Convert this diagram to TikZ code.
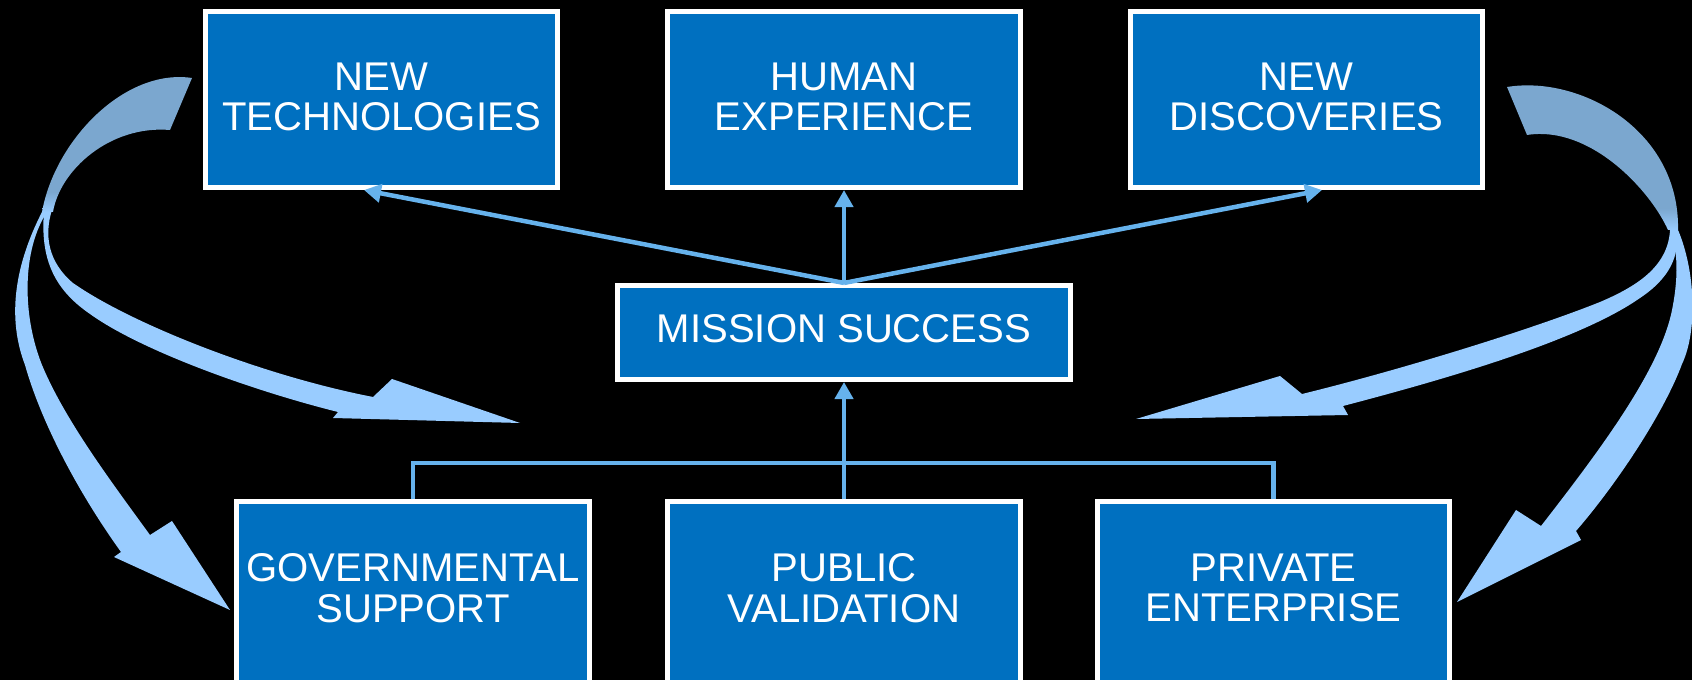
\documentclass[tikz,border=0pt]{standalone}
\usepackage{fontspec}
\setmainfont{Liberation Sans}
\usetikzlibrary{arrows.meta}
\definecolor{boxblue}{RGB}{0,112,192}
\definecolor{linkblue}{RGB}{102,178,236}
\definecolor{armlight}{RGB}{153,204,255}
\definecolor{armgray}{RGB}{123,167,207}
\pgfdeclareverticalshading{tailfade}{100bp}{color(0bp)=(armlight); color(25bp)=(armlight); color(32bp)=(armgray); color(100bp)=(armgray)}
\begin{document}
\begin{tikzpicture}[x=0.01cm, y=-0.01cm,
  box/.style={draw=white, line width=0.05cm, fill=boxblue, text=white, align=center,
    minimum width=3.52cm, minimum height=1.76cm, inner sep=0pt, outer sep=0.025cm,
    font=\fontsize{11.4}{11.4}\selectfont, text depth=0.05cm},
  lowbox/.style={box, minimum height=1.86cm, text depth=0.14cm},
  link/.style={linkblue, line width=0.045cm},
  linkarrow/.style={link, -{Triangle[width=0.18cm,length=0.17cm]}}]
  \useasboundingbox (0,0) rectangle (1692,680);
  \fill[black] (0,0) rectangle (1692,680);

  \fill[armlight] (42,212) .. controls (20,255) and (4,310) .. (25,365) .. controls (42,425) and (80,495) .. (121,552) -- (114,557) -- (230,610) -- (172,521) -- (150,535) .. controls (110,480) and (65,420) .. (42,365) .. controls (22,315) and (22,250) .. (47,212) -- cycle;
  \fill[armlight] (52,210) .. controls (44,235) and (48,262) .. (73,283) .. controls (130,323) and (260,375) .. (373,397) -- (392,379) -- (520,423) -- (333,418) -- (338,412) .. controls (250,390) and (140,350) .. (90,314) .. controls (55,290) and (40,260) .. (44,212) -- cycle;
  \shade[shading=tailfade] (192,78) .. controls (125,68) and (55,140) .. (42,212) -- (53,212) .. controls (60,170) and (110,125) .. (170,130) -- cycle;

  \fill[armlight] (1678,230) .. controls (1695,270) and (1698,330) .. (1682,364) .. controls (1665,410) and (1620,480) .. (1576,531) -- (1581,540) -- (1457,602) -- (1516,510) -- (1541,526) .. controls (1600,450) and (1660,370) .. (1672,310) .. controls (1680,270) and (1676,245) .. (1670,230) -- cycle;
  \fill[armlight] (1670,230) .. controls (1668,265) and (1640,285) .. (1600,302) .. controls (1530,330) and (1400,370) .. (1302,394) -- (1280,376) -- (1136,419) -- (1348,415) -- (1343,406) .. controls (1450,378) and (1580,340) .. (1640,298) .. controls (1670,278) and (1680,255) .. (1676,232) -- cycle;
  \shade[shading=tailfade] (1507,87) .. controls (1580,75) and (1680,130) .. (1678,230) -- (1668,230) .. controls (1650,190) and (1590,125) .. (1527,135) -- cycle;

  \node[box] (tech) at (381.5,99.5) {NEW\\TECHNOLOGIES};
  \node[box] (human) at (844,99.5) {HUMAN\\EXPERIENCE};
  \node[box] (disc) at (1306.5,99.5) {NEW\\DISCOVERIES};
  \node[box, minimum width=4.53cm, minimum height=0.94cm, text depth=0.07cm] (mission) at (844,332.5) {MISSION SUCCESS};
  \node[lowbox] (gov) at (413,595) {GOVERNMENTAL\\SUPPORT};
  \node[lowbox] (public) at (844,595) {PUBLIC\\VALIDATION};
  \node[lowbox] (private) at (1273.5,595) {PRIVATE\\ENTERPRISE};

  \coordinate (hub) at (844,463);
  \draw[linkarrow] (mission.north) -- ([xshift=-0.175cm]tech.south);
  \draw[linkarrow] (mission.north) -- (human.south);
  \draw[linkarrow] (mission.north) -- ([xshift=0.155cm]disc.south);
  \draw[linkarrow] (public.north) -- (mission.south);
  \draw[link] (gov.north) -- (gov.north |- hub) -- (private.north |- hub) -- (private.north);
\end{tikzpicture}
\end{document}
